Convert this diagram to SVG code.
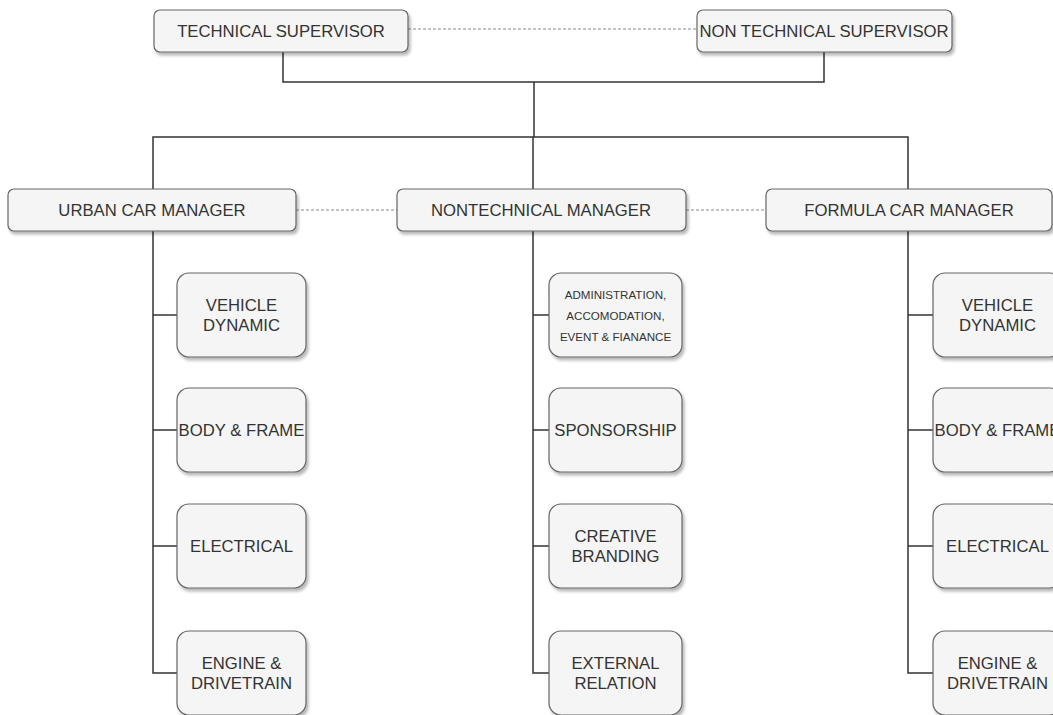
<svg xmlns="http://www.w3.org/2000/svg" width="1053" height="715" viewBox="0 0 1053 715">
<defs>
<filter id="sh" x="-10%" y="-10%" width="130%" height="140%">
<feDropShadow dx="2" dy="3" stdDeviation="1.5" flood-color="#000" flood-opacity="0.28"/>
</filter>
<style>
.box{fill:#f5f5f5;stroke:#666;stroke-width:1.2;filter:url(#sh)}
.t{font-family:"Liberation Sans",Arial,sans-serif;font-size:16.7px;fill:#333;text-anchor:middle}
.s{font-size:11.6px}
.ln{fill:none;stroke:#333;stroke-width:1.5}
.dot{fill:none;stroke:#888;stroke-width:1;stroke-dasharray:3 2}
</style>
</defs>
<rect width="1053" height="715" fill="#fff"/>
<g id="connectors">
<line class="dot" x1="408" y1="29" x2="697" y2="29"/>
<line class="dot" x1="296" y1="210" x2="397" y2="210"/>
<line class="dot" x1="686" y1="210" x2="766" y2="210"/>
<polyline class="ln" points="283,52 283,82 824,82 824,52"/>
<line class="ln" x1="534" y1="82" x2="534" y2="137"/>
<polyline class="ln" points="153,189 153,137 908,137 908,189"/>
<line class="ln" x1="533" y1="137" x2="533" y2="189"/>
<polyline class="ln" points="153,231 153,673 177,673"/>
<line class="ln" x1="153" y1="315" x2="177" y2="315"/>
<line class="ln" x1="153" y1="430" x2="177" y2="430"/>
<line class="ln" x1="153" y1="546" x2="177" y2="546"/>
<polyline class="ln" points="533,231 533,673 549,673"/>
<line class="ln" x1="533" y1="315" x2="549" y2="315"/>
<line class="ln" x1="533" y1="430" x2="549" y2="430"/>
<line class="ln" x1="533" y1="546" x2="549" y2="546"/>
<polyline class="ln" points="908,231 908,673 933,673"/>
<line class="ln" x1="908" y1="315" x2="933" y2="315"/>
<line class="ln" x1="908" y1="430" x2="933" y2="430"/>
<line class="ln" x1="908" y1="546" x2="933" y2="546"/>
</g>
<g id="tech-supervisor"><rect class="box" x="154" y="10" width="254" height="42" rx="6"/><text class="t" x="281" y="37">TECHNICAL SUPERVISOR</text></g>
<g id="nontech-supervisor"><rect class="box" x="697" y="10" width="255" height="42" rx="6"/><text class="t" x="824" y="37">NON TECHNICAL SUPERVISOR</text></g>
<g id="urban-manager"><rect class="box" x="8" y="189" width="288" height="42" rx="6"/><text class="t" x="152" y="216">URBAN CAR MANAGER</text></g>
<g id="nontech-manager"><rect class="box" x="397" y="189" width="289" height="42" rx="6"/><text class="t" x="541" y="216">NONTECHNICAL MANAGER</text></g>
<g id="formula-manager"><rect class="box" x="766" y="189" width="286" height="42" rx="6"/><text class="t" x="909" y="216">FORMULA CAR MANAGER</text></g>

<g id="u-vehicle"><rect class="box" x="177" y="273" width="129" height="84" rx="12"/><text class="t" x="241.5" y="311">VEHICLE</text><text class="t" x="241.5" y="331">DYNAMIC</text></g>
<g id="u-body"><rect class="box" x="177" y="388" width="129" height="84" rx="12"/><text class="t" x="241.5" y="436">BODY &amp; FRAME</text></g>
<g id="u-electrical"><rect class="box" x="177" y="504" width="129" height="84" rx="12"/><text class="t" x="241.5" y="552">ELECTRICAL</text></g>
<g id="u-engine"><rect class="box" x="177" y="631" width="129" height="84" rx="12"/><text class="t" x="241.5" y="669">ENGINE &amp;</text><text class="t" x="241.5" y="689">DRIVETRAIN</text></g>

<g id="n-admin"><rect class="box" x="549" y="273" width="133" height="84" rx="12"/><text class="t s" x="615.5" y="299">ADMINISTRATION,</text><text class="t s" x="615.5" y="320">ACCOMODATION,</text><text class="t s" x="615.5" y="341">EVENT &amp; FIANANCE</text></g>
<g id="n-sponsor"><rect class="box" x="549" y="388" width="133" height="84" rx="12"/><text class="t" x="615.5" y="436">SPONSORSHIP</text></g>
<g id="n-creative"><rect class="box" x="549" y="504" width="133" height="84" rx="12"/><text class="t" x="615.5" y="542">CREATIVE</text><text class="t" x="615.5" y="562">BRANDING</text></g>
<g id="n-external"><rect class="box" x="549" y="631" width="133" height="84" rx="12"/><text class="t" x="615.5" y="669">EXTERNAL</text><text class="t" x="615.5" y="689">RELATION</text></g>

<g id="f-vehicle"><rect class="box" x="933" y="273" width="129" height="84" rx="12"/><text class="t" x="997.5" y="311">VEHICLE</text><text class="t" x="997.5" y="331">DYNAMIC</text></g>
<g id="f-body"><rect class="box" x="933" y="388" width="129" height="84" rx="12"/><text class="t" x="997.5" y="436">BODY &amp; FRAME</text></g>
<g id="f-electrical"><rect class="box" x="933" y="504" width="129" height="84" rx="12"/><text class="t" x="997.5" y="552">ELECTRICAL</text></g>
<g id="f-engine"><rect class="box" x="933" y="631" width="129" height="84" rx="12"/><text class="t" x="997.5" y="669">ENGINE &amp;</text><text class="t" x="997.5" y="689">DRIVETRAIN</text></g>
</svg>
